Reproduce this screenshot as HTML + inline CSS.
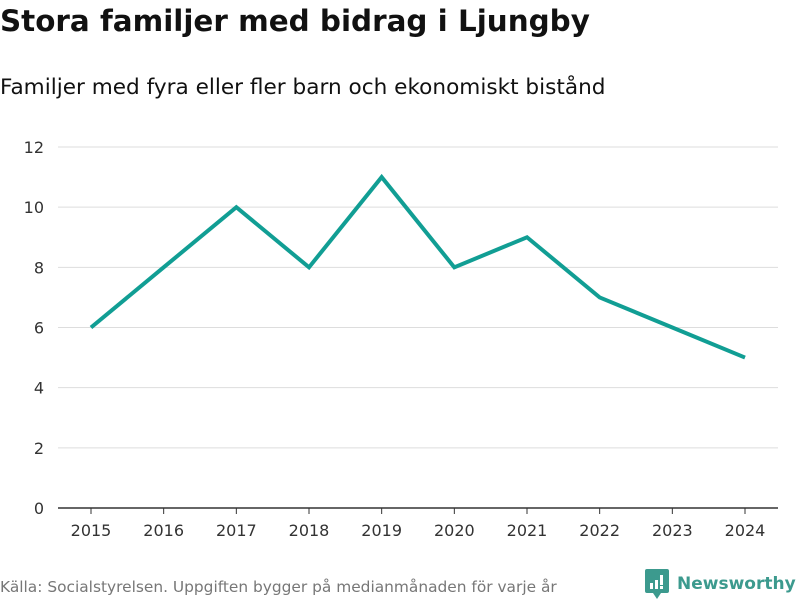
<!DOCTYPE html>
<html><head><meta charset="utf-8"><style>
body{margin:0;width:800px;height:600px;background:#fff;font-family:"DejaVu Sans","Liberation Sans",sans-serif;overflow:hidden;position:relative;color:#111}
#title{position:absolute;left:0;top:4px;font-size:29.4px;font-weight:bold;margin:0}
#sub{position:absolute;left:0;top:75px;font-size:21.6px}
#src{position:absolute;left:0;top:578px;font-size:15.4px;color:#777}
#logo{position:absolute;left:645px;top:569px;display:flex;align-items:center}
#logo span{font-size:17px;color:#3c9a8e;font-weight:bold;margin-left:8px}
svg{position:absolute;left:0;top:0}
</style></head><body>
<h1 id="title">Stora familjer med bidrag i Ljungby</h1>
<div id="sub">Familjer med fyra eller fler barn och ekonomiskt bistånd</div>
<svg id="chart" width="800" height="600"></svg>
<div id="src">Källa: Socialstyrelsen. Uppgiften bygger på medianmånaden för varje år</div>
<div id="logo">
<svg width="24" height="30" viewBox="0 0 24 30" style="position:static"><path d="M0 2 Q0 0 2 0 H22 Q24 0 24 2 V22 Q24 24 22 24 H16 L12 30 L8 24 H2 Q0 24 0 22Z" fill="#3c9a8e"/><rect x="5" y="14" width="3" height="6" fill="#fff"/><rect x="10" y="11" width="3" height="9" fill="#fff"/><rect x="15" y="6" width="3" height="10" fill="#fff"/><rect x="15" y="17" width="3" height="3" fill="#fff"/></svg>
<span>Newsworthy</span></div>
<script>
const years=["2015","2016","2017","2018","2019","2020","2021","2022","2023","2024"];
const values=[6,8,10,8,11,8,9,7,6,5];
const yTicks=[0,2,4,6,8,10,12];
const svg=document.getElementById('chart');
const NS='http://www.w3.org/2000/svg';
const x=i=>91+i*(745-91)/(years.length-1);
const y=v=>508-v*(508-147)/12;
function mk(t,a){const e=document.createElementNS(NS,t);for(const k in a)e.setAttribute(k,a[k]);svg.appendChild(e);return e;}
yTicks.forEach(v=>{
 const l=mk('line',{x1:58,x2:778,y1:y(v),y2:y(v),stroke:v===0?'#333':'#ddd','stroke-width':v===0?1.5:1});
 
 
 const t=mk('text',{x:44,y:y(v)+6,'text-anchor':'end','font-size':16,fill:'#333'});
 t.textContent=v;
 
 
});
years.forEach((yr,i)=>{
 const tk=mk('line',{x1:x(i),x2:x(i),y1:508,y2:514,stroke:'#333'});
 
 
 const t=mk('text',{x:x(i),y:536,'text-anchor':'middle','font-size':16,fill:'#333'});
 t.textContent=yr;
 
 
});
const p=mk('polyline',{points:values.map((v,i)=>x(i)+','+y(v)).join(' '),fill:'none',stroke:'#119e94','stroke-width':4,'stroke-linejoin':'miter'});


</script>
</body></html>
